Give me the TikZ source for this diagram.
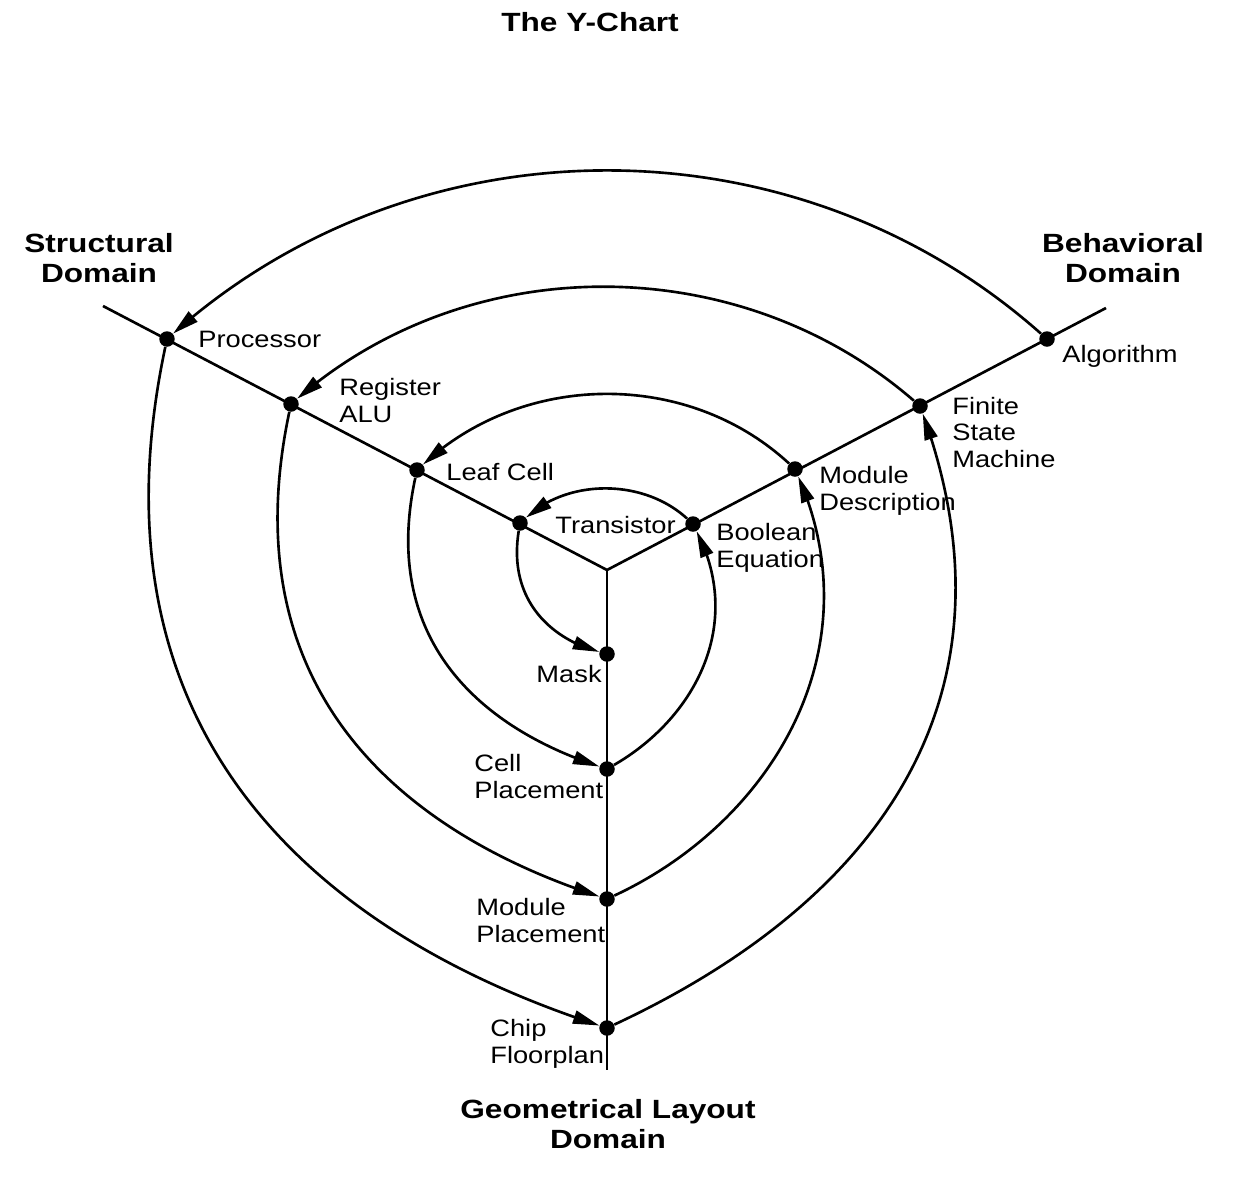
\documentclass[tikz,border=0pt]{standalone}
\usepackage{fontspec}
\setmainfont{Liberation Sans}
\newfontfamily\lblfont[FakeStretch=1.15]{Liberation Sans}
\newfontfamily\domfont[FakeStretch=1.2]{Liberation Sans Bold}
\usetikzlibrary{arrows.meta,bending}
\begin{document}
\begin{tikzpicture}[x=0.02cm,y=-0.02cm,
  axisline/.style={line width=1.5pt},
  dot/.style={circle,fill=black,draw=none,inner sep=0pt,minimum size=0.31cm},
  lbl/.style={anchor=base west,inner sep=0pt,align=left,font=\lblfont\fontsize{13.5}{15}\selectfont},
  lblr/.style={anchor=base east,inner sep=0pt,align=right,font=\lblfont\fontsize{13.5}{15}\selectfont},
  dom/.style={anchor=base,inner sep=0pt,align=center,font=\domfont\fontsize{15}{17}\selectfont},
  flow/.style={line width=1.5pt,-{Triangle[length=15pt,width=7.5pt]}}
]
\fill[white] (0,0) rectangle (1252,1178);
\useasboundingbox (0,0) rectangle (1252,1178);

% centre and arm ends
\coordinate (O) at (607,570);
\coordinate (ulend) at (103,306);
\coordinate (urend) at (1106,308);
\coordinate (dend) at (607,1070);
\draw[axisline] (O) -- (ulend);
\draw[axisline] (O) -- (urend);
\draw[axisline] (O) -- (dend);

% dots
\node[dot] (proc) at (167,339) {};
\node[dot] (reg) at (291,404) {};
\node[dot] (leaf) at (417,470) {};
\node[dot] (trans) at (520,523) {};
\node[dot] (bool) at (693,524) {};
\node[dot] (moddesc) at (795,469) {};
\node[dot] (fsm) at (920,406) {};
\node[dot] (alg) at (1047,339) {};
\node[dot] (mask) at (607,654) {};
\node[dot] (cellpl) at (607,769) {};
\node[dot] (modpl) at (607,899) {};
\node[dot] (chip) at (607,1028) {};

% spiral
\draw[flow] (alg) .. controls (796,116) and (418,116) .. (proc);
\draw[flow] (proc) .. controls (84,730) and (312,932) .. (chip);
\draw[flow] (chip) .. controls (879,901) and (1025,697) .. (fsm);
\draw[flow] (fsm) .. controls (740,250) and (471,248) .. (reg);
\draw[flow] (reg) .. controls (231.5,685) and (395,830) .. (modpl);
\draw[flow] (modpl) .. controls (770,823) and (875,652) .. (moddesc);
\draw[flow] (moddesc) .. controls (688,370) and (524,371) .. (leaf);
\draw[flow] (leaf) .. controls (380.5,639) and (479,727) .. (cellpl);
\draw[flow] (cellpl) .. controls (693.6,719) and (745,626) .. (bool);
\draw[flow] (bool) .. controls (644,479) and (569,478) .. (trans);
\draw[flow] (trans) .. controls (507.6,600) and (551,639) .. (mask);

% labels (anchor base = baseline of last line)
\node[lbl] (lproc) at (198,347) {Processor};
\node[lbl] (lreg) at (339,422) {Register\\ALU};
\node[lbl] (lleaf) at (446,480) {Leaf Cell};
\node[lbl] (ltrans) at (555,533) {Transistor};
\node[lbl] (lbool) at (716,567) {Boolean\\Equation};
\node[lbl] (lmoddesc) at (819,510) {Module\\Description};
\node[lbl] (lfsm) at (952,467) {Finite\\State\\Machine};
\node[lbl] (lalg) at (1062,362) {Algorithm};
\node[lblr] (lmask) at (602,682) {Mask};
\node[lbl] (lcellpl) at (474,798) {Cell\\Placement};
\node[lbl] (lmodpl) at (476,942) {Module\\Placement};
\node[lbl] (lchip) at (490,1063) {Chip\\Floorplan};

% titles
\node[dom] (title) at (590,31) {The Y-Chart};
\node[dom] (struct) at (99,282) {Structural\\Domain};
\node[dom] (behav) at (1123,282) {Behavioral\\Domain};
\node[dom] (geom) at (608,1148) {Geometrical Layout\\Domain};
\end{tikzpicture}
\end{document}
